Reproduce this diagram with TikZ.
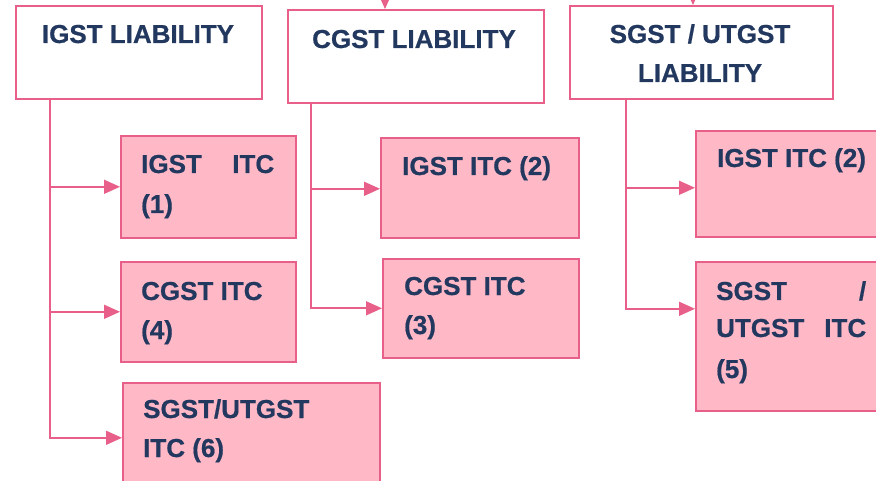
\documentclass[tikz,border=0pt]{standalone}
\usepackage{fontspec}
\setmainfont{Liberation Sans}[BoldFeatures={FakeBold=0.6}]
\usetikzlibrary{arrows.meta,calc}
\definecolor{pinkline}{HTML}{E8608A}
\definecolor{pinkfill}{HTML}{FFB8C6}
\definecolor{navy}{HTML}{22385F}
\tikzset{
  liab/.style={draw=pinkline, line width=1.6pt, fill=white, anchor=north west, inner sep=0pt},
  itc/.style={draw=pinkline, line width=1.6pt, fill=pinkfill, anchor=north west, inner sep=0pt},
  txt/.style={anchor=base west, inner sep=0pt, text=navy, font=\fontsize{26}{39}\selectfont\bfseries},
  ctxt/.style={anchor=base, inner sep=0pt, text=navy, font=\fontsize{26}{39}\selectfont\bfseries},
  conn/.style={draw=pinkline, line width=1.6pt, -{Triangle[length=16pt,width=14pt]}}
}
\begin{document}
\begin{tikzpicture}[x=1pt,y=-1pt]
\fill[white] (0,0) rectangle (876,481);
\clip (0,0) rectangle (876,481);
% liability boxes
\node[liab, minimum width=246pt, minimum height=93pt] (igstL) at (15,5) {};
\node[liab, minimum width=256pt, minimum height=93pt] (cgstL) at (287,9) {};
\node[liab, minimum width=263pt, minimum height=93pt] (sgstL) at (569,5) {};
% ITC boxes
\node[itc, minimum width=175pt, minimum height=102pt] (b1) at (120,135) {};
\node[itc, minimum width=175pt, minimum height=100pt] (b4) at (120,261) {};
\node[itc, minimum width=257pt, minimum height=110pt] (b6) at (122,382) {};
\node[itc, minimum width=198pt, minimum height=100pt] (b2m) at (380,137) {};
\node[itc, minimum width=196pt, minimum height=99pt] (b3) at (382,258) {};
\node[itc, minimum width=200pt, minimum height=106pt] (b2r) at (695,130) {};
\node[itc, minimum width=200pt, minimum height=149pt] (b5) at (695,261) {};
% texts
\node[ctxt] (tA) at (138,43) {IGST LIABILITY};
\node[ctxt] (tB) at (414,48) {CGST LIABILITY};
\node[ctxt] (tC1) at (700,43) {SGST / UTGST};
\node[ctxt] (tC2) at (700,82) {LIABILITY};
\node[txt] (t1a) at (141,173) {\hbox to 133pt{IGST\hfill ITC}};
\node[txt] (t1b) at (141,213) {(1)};
\node[txt] (t4a) at (141,300) {CGST ITC};
\node[txt] (t4b) at (141,339) {(4)};
\node[txt] (t6a) at (143,418) {SGST/UTGST};
\node[txt] (t6b) at (143,457) {ITC (6)};
\node[txt] (t2m) at (402,175) {IGST ITC (2)};
\node[txt] (t3a) at (404,295) {CGST ITC};
\node[txt] (t3b) at (404,334) {(3)};
\node[txt] (t2r) at (717,167) {IGST ITC (2)};
\node[txt] (t5a) at (716,300) {\hbox to 150pt{SGST\hfill /}};
\node[txt] (t5b) at (716,337) {\hbox to 150pt{UTGST\hfill ITC}};
\node[txt] (t5c) at (716,378) {(5)};
% incoming arrows from above
\coordinate (inB) at (385,-30);
\coordinate (inC) at (693,-30);
\draw[conn] (inB) -- (inB |- cgstL.north);
\draw[conn] (inC) -- (inC |- sgstL.north);
% branches
\draw[conn] ([xshift=35pt]igstL.south west) |- (b1.west);
\draw[conn] ([xshift=35pt]igstL.south west) |- (b4.west);
\draw[conn] ([xshift=35pt]igstL.south west) |- (b6.west);
\draw[conn] ([xshift=24pt]cgstL.south west) |- ([yshift=-1pt]b2m.west);
\draw[conn] ([xshift=24pt]cgstL.south west) |- (b3.west);
\draw[conn] ([xshift=57pt]sgstL.south west) |- ([yshift=-4pt]b2r.west);
\draw[conn] ([xshift=57pt]sgstL.south west) |- ([yshift=27.5pt]b5.west);
\end{tikzpicture}
\end{document}
